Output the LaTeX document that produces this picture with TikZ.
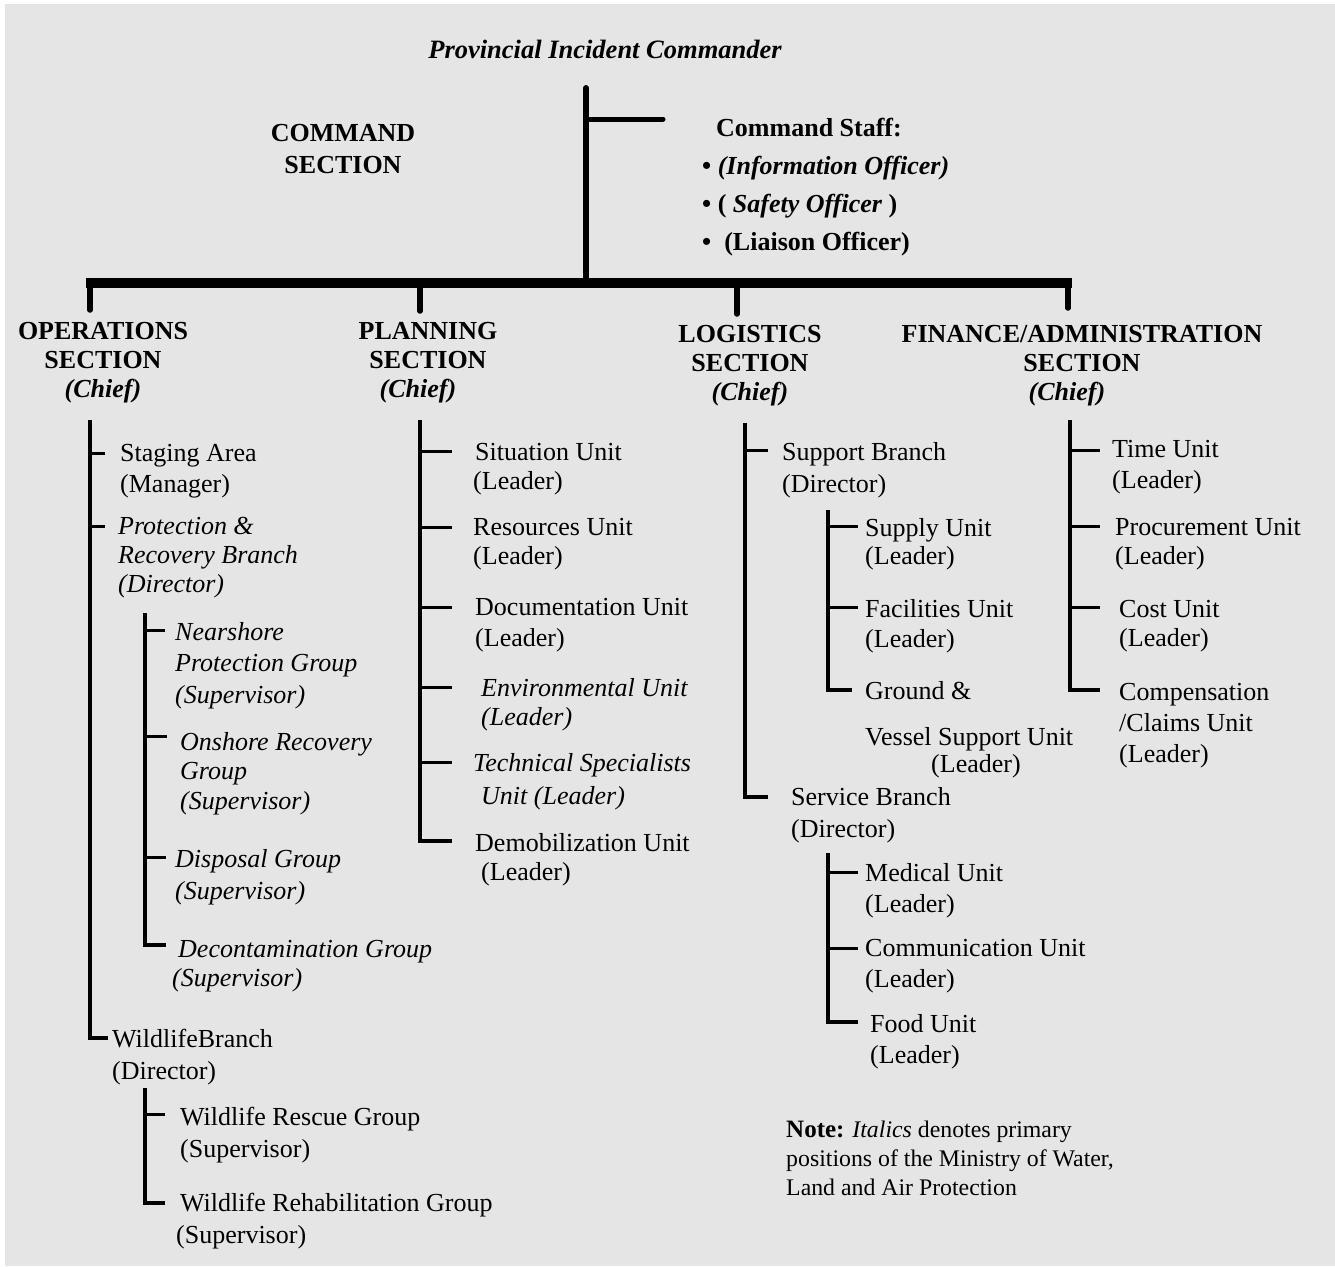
\documentclass[tikz,border=0pt]{standalone}
\usepackage{fontspec}
\setmainfont{Liberation Serif}
\usetikzlibrary{calc}
\definecolor{bggray}{HTML}{E5E5E5}
\newcommand{\txtsz}[1]{\fontsize{26}{#1}\selectfont}
\tikzset{
  lbl/.style={anchor=north west, inner sep=0pt, align=left, font=\txtsz{31}},
  sec/.style={anchor=north, inner sep=0pt, align=center, font=\txtsz{29}\bfseries},
  trunk/.style={line width=3.3pt},
  tick/.style={line width=3pt},
  bus/.style={line width=10pt},
  drop/.style={line width=5.5pt, line cap=round},
}
\begin{document}
\begin{tikzpicture}[x=1pt,y=-1pt]
\useasboundingbox (0,0) rectangle (1335,1266);
\fill[white] (0,0) rectangle (1335,1266);
\fill[bggray] (5,4) rectangle (1335,1266);

% ---------- top ----------
\node[anchor=north, inner sep=0pt, font=\fontsize{26.5}{30}\selectfont\bfseries\itshape] (pic) at (605,40) {Provincial Incident Commander};
\node[sec, font=\txtsz{32}\bfseries] (cmdsec) at (343,124) {COMMAND\\SECTION};
\node[lbl, font=\txtsz{38}\bfseries] (staff) at (702,118)
  {\hspace*{14pt}Command Staff:\\
   • \textit{(Information Officer)}\\
   • ( \textit{Safety Officer} )\\
   •\ \ (Liaison Officer)};

\coordinate (cmdT) at (586,88);
\coordinate (cmdB) at (586,283);
\coordinate (cmdBr) at (663,119);
\draw[line width=6pt, line cap=round] (cmdT) -- (cmdB);
\draw[line width=5pt, line cap=round] (cmdT |- cmdBr) -- (cmdBr);

% ---------- section headings ----------
\node[sec] (ops) at (103,322) {OPERATIONS\\SECTION\\\textit{(Chief)}};
\node[sec] (pln) at (428,322) {PLANNING\\SECTION\\\textit{(Chief)}\hspace*{20pt}};
\node[sec] (log) at (750,325) {LOGISTICS\\SECTION\\\textit{(Chief)}};
\node[sec] (fin) at (1082,325) {FINANCE/ADMINISTRATION\\SECTION\hspace*{30pt}\\\textit{(Chief)}\hspace*{30pt}};

\coordinate (busL) at (86,283);
\coordinate (busR) at (1072,283);
\coordinate (opsD) at (90,310);
\coordinate (plnD) at (420,311);
\coordinate (logD) at (737,314);
\coordinate (finD) at (1068,308);
\draw[bus] (busL) -- (busR);
\draw[drop] (opsD |- busL) -- (opsD);
\draw[drop] (plnD |- busL) -- (plnD);
\draw[drop] (logD |- busL) -- (logD);
\draw[drop] (finD |- busL) -- (finD);

% ---------- operations ----------
\node[lbl] (stg) at (120,444) {Staging Area\\(Manager)};
\node[lbl, font=\txtsz{29}\itshape] (prb) at (118,517) {Protection \&\\Recovery Branch\\(Director)};
\node[lbl, font=\txtsz{31.5}\itshape] (nsp) at (175,622) {Nearshore\\Protection Group\\(Supervisor)};
\node[lbl, font=\txtsz{29.5}\itshape] (onr) at (180,732) {Onshore Recovery\\Group\\(Supervisor)};
\node[lbl, font=\txtsz{32}\itshape] (dsp) at (175,849) {Disposal Group\\(Supervisor)};
\node[lbl, font=\txtsz{29}\itshape] (dcn) at (178,940) {Decontamination Group\\\hspace*{-6pt}(Supervisor)};
\node[lbl, font=\txtsz{32}] (wlb) at (112,1029) {WildlifeBranch\\(Director)};
\node[lbl, font=\txtsz{32}] (wrs) at (180,1107) {Wildlife Rescue Group\\(Supervisor)};
\node[lbl, font=\txtsz{32}] (wrh) at (180,1193) {Wildlife Rehabilitation Group\\\hspace*{-4pt}(Supervisor)};

\coordinate (opsT) at (90,420);
\draw[trunk] (opsT) |- ($(wlb.north west)+(-4,9)$);
\draw[tick] ($(stg.north west)+(-15,9)$) -| (opsT);
\draw[tick] ($(prb.north west)+(-13,9)$) -| (opsT);

\coordinate (prbT) at (145,613);
\draw[trunk] (prbT) |- ($(dcn.north west)+(-12,5)$);
\draw[tick] ($(nsp.north west)+(-10,8)$) -| (prbT);
\draw[tick] ($(onr.north west)+(-13,4)$) -| (prbT);
\draw[tick] ($(dsp.north west)+(-9,8)$) -| (prbT);

\coordinate (wlbT) at (145,1088);
\draw[trunk] (wlbT) |- ($(wrh.north west)+(-15,10)$);
\draw[tick] ($(wrs.north west)+(-15,7)$) -| (wlbT);

% ---------- planning ----------
\node[lbl, font=\txtsz{29}] (sit) at (475,443) {Situation Unit\\\hspace*{-2pt}(Leader)};
\node[lbl, font=\txtsz{29}] (res) at (473,518) {Resources Unit\\(Leader)};
\node[lbl, font=\txtsz{31}] (doc) at (475,598) {Documentation Unit\\(Leader)};
\node[lbl, font=\txtsz{29}\itshape] (env) at (481,678) {Environmental Unit\\(Leader)};
\node[lbl, font=\txtsz{33}\itshape] (tec) at (473,753) {Technical Specialists\\\hspace*{8pt}Unit (Leader)};
\node[lbl, font=\txtsz{29}] (dem) at (475,833) {Demobilization Unit\\\hspace*{6pt}(Leader)};

\coordinate (plnT) at (420,420);
\draw[trunk] (plnT) |- ($(dem.north west)+(-23,8)$);
\draw[tick] ($(sit.north west)+(-23,8)$) -| (plnT);
\draw[tick] ($(res.north west)+(-21,9)$) -| (plnT);
\draw[tick] ($(doc.north west)+(-23,9)$) -| (plnT);
\draw[tick] ($(env.north west)+(-29,9)$) -| (plnT);
\draw[tick] ($(tec.north west)+(-21,9)$) -| (plnT);

% ---------- logistics ----------
\node[lbl, font=\txtsz{32}] (sup) at (782,442) {Support Branch\\(Director)};
\node[lbl, font=\txtsz{28}] (spl) at (865,518) {Supply Unit\\(Leader)};
\node[lbl, font=\txtsz{30}] (fac) at (865,599) {Facilities Unit\\(Leader)};
\node[lbl, font=\txtsz{27}] (gnd) at (865,681) {Ground \&\\[19pt]Vessel Support Unit\\\hspace*{66pt}(Leader)};
\node[lbl, font=\txtsz{32}] (srv) at (791,787) {Service Branch\\(Director)};
\node[lbl, font=\txtsz{31}] (med) at (865,863) {Medical Unit\\(Leader)};
\node[lbl, font=\txtsz{31}] (com) at (865,939) {Communication Unit\\(Leader)};
\node[lbl, font=\txtsz{31}] (fod) at (870,1014) {Food Unit\\(Leader)};

\coordinate (logT) at (745,423);
\draw[trunk] (logT) |- ($(srv.north west)+(-23,10)$);
\draw[tick] ($(sup.north west)+(-14,8)$) -| (logT);

\coordinate (splT) at (828,510);
\draw[trunk] (splT) |- ($(gnd.north west)+(-13,9)$);
\draw[tick] ($(spl.north west)+(-7,8)$) -| (splT);
\draw[tick] ($(fac.north west)+(-7,8)$) -| (splT);

\coordinate (srvT) at (828,853);
\draw[trunk] (srvT) |- ($(fod.north west)+(-12,8)$);
\draw[tick] ($(med.north west)+(-7,9)$) -| (srvT);
\draw[tick] ($(com.north west)+(-7,9)$) -| (srvT);

% ---------- finance ----------
\node[lbl, font=\txtsz{31}] (tim) at (1112,440) {Time Unit\\(Leader)};
\node[lbl, font=\txtsz{29}] (prc) at (1115,518) {Procurement Unit\\(Leader)};
\node[lbl, font=\txtsz{29}] (cst) at (1119,600) {Cost Unit\\(Leader)};
\node[lbl, font=\txtsz{31}] (cmp) at (1119,683) {Compensation\\/Claims Unit\\(Leader)};

\coordinate (finT) at (1070,420);
\draw[trunk] (finT) |- ($(cmp.north west)+(-19,7)$);
\draw[tick] ($(tim.north west)+(-12,10)$) -| (finT);
\draw[tick] ($(prc.north west)+(-15,8)$) -| (finT);
\draw[tick] ($(cst.north west)+(-19,7)$) -| (finT);

% ---------- note ----------
\node[lbl, font=\fontsize{23.8}{29}\selectfont] (note) at (786,1121)
  {\textbf{\fontsize{25}{29}\selectfont Note:} \textit{Italics} denotes primary\\
   positions of the Ministry of Water,\\
   Land and Air Protection};
\end{tikzpicture}
\end{document}
